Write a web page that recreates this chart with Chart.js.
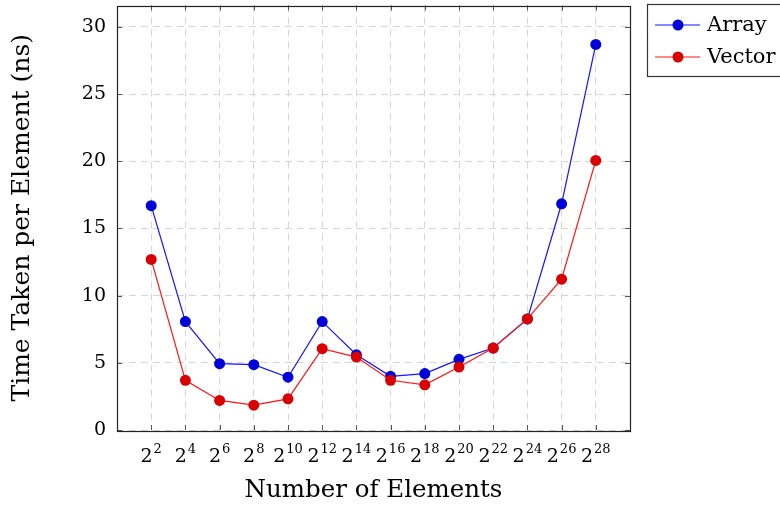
<!DOCTYPE html>
<html><head><meta charset="utf-8">
<script src="https://cdn.jsdelivr.net/npm/chart.js@4"></script>
<style>html,body{margin:0;padding:0;background:#fff}#wrap{width:780px;height:507px}</style>
</head><body><div id="wrap"><canvas id="c" width="780" height="507"></canvas></div>
<script>
const exponents = [2, 4, 6, 8, 10, 12, 14, 16, 18, 20, 22, 24, 26, 28];
const arrayTimes = [16.7, 8.07, 4.94, 4.86, 3.93, 8.07, 5.6, 4.0, 4.2, 5.26, 6.1, 8.27, 16.84, 28.7];
const vectorTimes = [12.7, 3.7, 2.2, 1.85, 2.32, 6.05, 5.43, 3.7, 3.36, 4.69, 6.1, 8.27, 11.23, 20.07];
const yTickValues = [0, 5, 10, 15, 20, 25, 30];
const seriesNames = ['Array', 'Vector'];
const xTitle = 'Number of Elements';
const yTitle = 'Time Taken per Element (ns)';

const FONT = 'DejaVu Serif';
const colors = [
  {line: '#1414ff', mark: '#0000d8'},
  {line: '#ff1414', mark: '#d80000'}
];
const GRID = '#d6d6d6';

const decor = {
  id: 'decor',
  afterDraw(chart) {
    const ctx = chart.ctx;
    const a = chart.chartArea;
    const xs = chart.scales.x, ys = chart.scales.y;
    ctx.save();
    // inner tick marks
    ctx.strokeStyle = '#555';
    ctx.lineWidth = 1;
    ctx.beginPath();
    xs.ticks.forEach(t => {
      const px = Math.round(xs.getPixelForValue(t.value)) + 0.5;
      ctx.moveTo(px, a.bottom); ctx.lineTo(px, a.bottom - 5);
      ctx.moveTo(px, a.top); ctx.lineTo(px, a.top + 5);
    });
    ys.ticks.forEach(t => {
      const py = Math.round(ys.getPixelForValue(t.value)) + 0.5;
      ctx.moveTo(a.left, py); ctx.lineTo(a.left + 5, py);
      ctx.moveTo(a.right, py); ctx.lineTo(a.right - 5, py);
    });
    ctx.stroke();
    // frame
    ctx.strokeStyle = '#222';
    ctx.lineWidth = 1.2;
    ctx.strokeRect(Math.round(a.left) + 0.5, Math.round(a.top) + 0.5, Math.round(a.right - a.left), Math.round(a.bottom - a.top));
    // x tick labels with superscripts
    ctx.fillStyle = '#000';
    ctx.textBaseline = 'alphabetic';
    ctx.textAlign = 'left';
    const baseFont = '19px "' + FONT + '"';
    const supFont = '13px "' + FONT + '"';
    xs.ticks.forEach(t => {
      const px = xs.getPixelForValue(t.value);
      ctx.font = baseFont;
      const w1 = ctx.measureText('2').width;
      ctx.font = supFont;
      const exp = String(t.value);
      const w2 = ctx.measureText(exp).width;
      const x0 = px - (w1 + w2 + 1) / 2;
      ctx.font = baseFont;
      ctx.fillText('2', x0, 462);
      ctx.font = supFont;
      ctx.fillText(exp, x0 + w1 + 1, 453);
    });
    // legend
    ctx.strokeStyle = '#333';
    ctx.lineWidth = 1.2;
    ctx.strokeRect(647.5, 4.5, 140, 72);
    chart.data.datasets.forEach((ds, i) => {
      const y = 25 + i * 32;
      ctx.strokeStyle = ds.borderColor;
      ctx.lineWidth = 1.2;
      ctx.beginPath(); ctx.moveTo(655, y); ctx.lineTo(700, y); ctx.stroke();
      ctx.fillStyle = ds.pointBackgroundColor;
      ctx.beginPath(); ctx.arc(678, y, 5.5, 0, Math.PI * 2); ctx.fill();
      ctx.fillStyle = '#000';
      ctx.font = '21px "' + FONT + '"';
      ctx.textBaseline = 'middle';
      ctx.fillText(ds.label, 707, y + 1);
    });
    ctx.restore();
  }
};

const mk = (vals, i) => ({
  label: seriesNames[i],
  data: exponents.map((e, k) => ({x: e, y: vals[k]})),
  borderColor: colors[i].line,
  borderWidth: 1.2,
  pointBackgroundColor: colors[i].mark,
  pointBorderColor: colors[i].mark,
  pointBorderWidth: 0,
  pointRadius: 5.5,
  pointHoverRadius: 5.5,
  tension: 0,
  fill: false,
  clip: false,
  order: 2 - i
});

new Chart(document.getElementById('c'), {
  type: 'line',
  data: {datasets: [mk(arrayTimes, 0), mk(vectorTimes, 1)]},
  options: {
    responsive: false,
    animation: false,
    devicePixelRatio: 1,
    layout: {padding: {left: 0, right: 150, top: 4, bottom: 0}},
    plugins: {legend: {display: false}, tooltip: {enabled: false}},
    scales: {
      x: {
        type: 'linear', min: 0, max: 30,
        afterBuildTicks: s => { s.ticks = exponents.map(v => ({value: v})); },
        afterFit: s => { s.height = 77; s.paddingLeft = 0; s.paddingRight = 0; },
        ticks: {display: false},
        grid: {color: GRID, lineWidth: 1, drawTicks: false},
        border: {display: false, dash: [7, 5]},
        title: {display: true, text: xTitle, color: '#000', font: {family: FONT, size: 24.5}, padding: {top: 0, bottom: 2}}
      },
      y: {
        type: 'linear', min: 0, max: 31.6,
        afterBuildTicks: s => { s.ticks = yTickValues.map(v => ({value: v})); },
        afterFit: s => { s.width = 117; s.paddingTop = 0; s.paddingBottom = 0; },
        ticks: {color: '#000', font: {family: FONT, size: 19}, padding: 11},
        grid: {color: GRID, lineWidth: 1, drawTicks: false},
        border: {display: false, dash: [7, 5]},
        title: {display: true, text: yTitle, color: '#000', font: {family: FONT, size: 25}, padding: {top: 7, bottom: 0}}
      }
    }
  },
  plugins: [decor]
});
</script></body></html>
